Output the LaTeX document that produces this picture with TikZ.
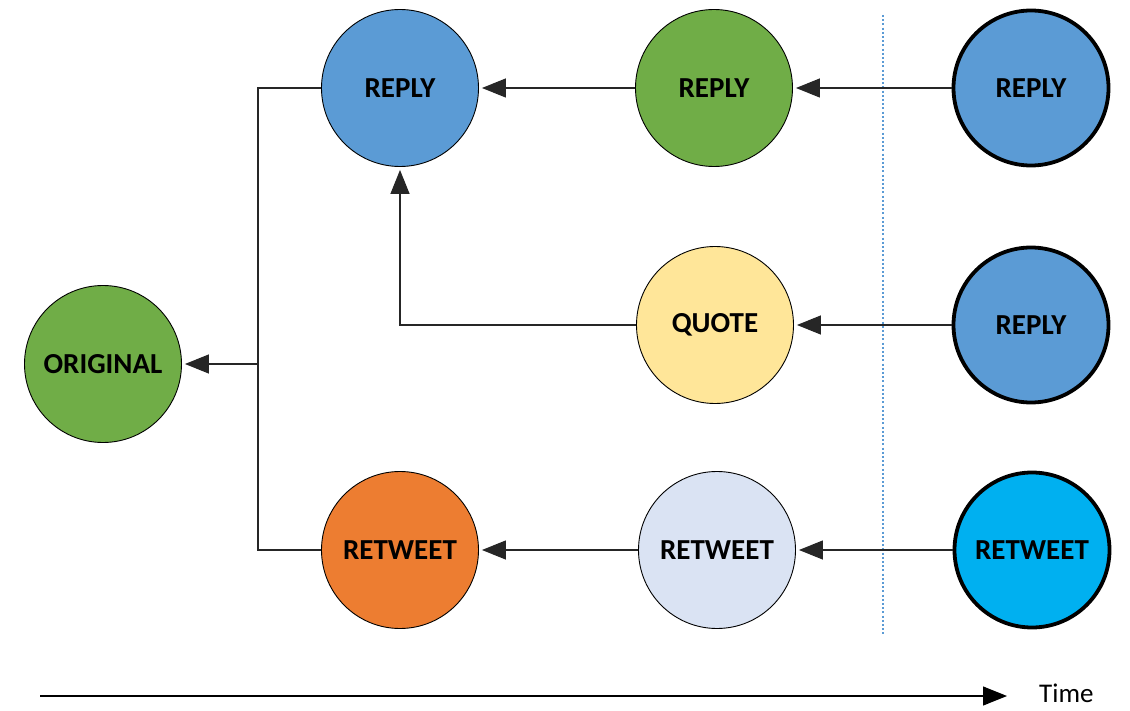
\documentclass[tikz,border=0pt]{standalone}
\usepackage{fontspec}
\setmainfont{Carlito}
\usetikzlibrary{arrows.meta}
\definecolor{replyblue}{HTML}{5B9BD5}
\definecolor{origgreen}{HTML}{70AD47}
\definecolor{quoteyellow}{HTML}{FFE699}
\definecolor{rtorange}{HTML}{ED7D31}
\definecolor{rtlavender}{HTML}{DAE3F3}
\definecolor{rtcyan}{HTML}{00B0F0}

\begin{document}
\begin{tikzpicture}[x=1pt,y=-1pt,
    post/.style={circle,draw=black,line width=0.9pt,minimum size=157pt,inner sep=0pt,
                 font=\fontsize{29}{32}\selectfont\bfseries},
    latest/.style={post,line width=3.8pt,minimum size=155pt},
    link/.style={draw=black!85,line width=1.4pt,shorten >=3pt,
                 -{Triangle[length=24pt,width=19pt]}},
    wire/.style={draw=black!85,line width=1.4pt}]
  \useasboundingbox (0,0) rectangle (1130,711);

  % posts
  \node[post,fill=origgreen]   (orig)    at (103,364) {ORIGINAL};
  \node[post,fill=replyblue]   (reply1)  at (400,88)  {REPLY};
  \node[post,fill=origgreen]   (reply2)  at (714,88)  {REPLY};
  \node[latest,fill=replyblue] (reply3)  at (1031,88) {REPLY};
  \node[post,fill=quoteyellow] (quote)   at (715,325) {QUOTE};
  \node[latest,fill=replyblue] (reply4)  at (1031,325) {REPLY};
  \node[post,fill=rtorange]    (rt1)     at (400,550) {RETWEET};
  \node[post,fill=rtlavender]  (rt2)     at (717,550) {RETWEET};
  \node[latest,fill=rtcyan]    (rt3)     at (1032,550) {RETWEET};

  % cut-off line
  \coordinate (cuttop) at (883,15);
  \coordinate (cutbot) at (883,634);
  \draw[replyblue,line width=1.6pt,dash pattern=on 2pt off 2.2pt] (cuttop) -- (cutbot);

  % links
  \coordinate (bus) at (258,364);
  \draw[wire] (reply1.west) -| (bus) |- (rt1.west);
  \draw[link] (bus) -- (orig.east);
  \draw[link] (reply2.west) -- (reply1.east);
  \draw[link] (reply3.west) -- (reply2.east);
  \draw[link] (quote.west) -| (reply1.south);
  \draw[link] (reply4.west) -- (quote.east);
  \draw[link] (rt2.west) -- (rt1.east);
  \draw[link] (rt3.west) -- (rt2.east);

  % time axis
  \coordinate (tstart) at (40,696);
  \node[font=\fontsize{27}{29}\selectfont,anchor=west,inner sep=0pt] (time) at (1039,693) {Time};
  \draw[black,line width=1.2pt,-{Triangle[length=24pt,width=19pt]}] (tstart) -- (1007,696);
\end{tikzpicture}
\end{document}
